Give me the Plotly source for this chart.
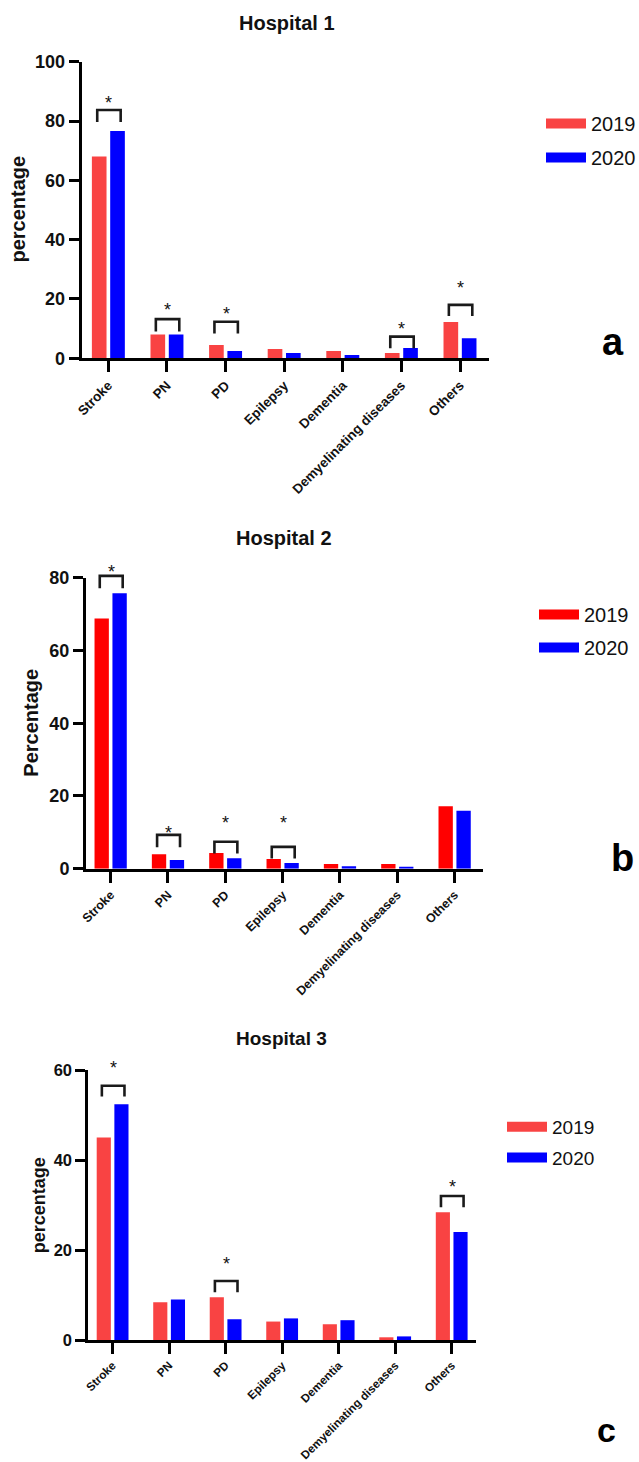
import plotly.graph_objects as go

W, H = 639, 1462

# ---------------- data ----------------
categories = ["Stroke", "PN", "PD", "Epilepsy", "Dementia", "Demyelinating diseases", "Others"]
years = ["2019", "2020"]

h1_2019 = [68.0, 8.0, 4.5, 3.1, 2.5, 1.8, 12.2]
h1_2020 = [76.6, 8.0, 2.5, 1.8, 1.1, 3.5, 6.8]

h2_2019 = [68.8, 4.0, 4.3, 2.7, 1.3, 1.3, 17.2]
h2_2020 = [75.7, 2.4, 2.9, 1.6, 0.7, 0.4, 15.9]

h3_2019 = [45.0, 8.4, 9.5, 4.1, 3.5, 0.6, 28.4]
h3_2020 = [52.4, 9.0, 4.6, 4.8, 4.4, 0.8, 24.0]

# significance brackets: (category index, bracket top, leg end, star level)
sig1 = [(0, 83.7, 79.7, 87.3), (1, 13.2, 9.0, 17.6), (2, 12.3, 8.4, 16.3),
        (5, 7.3, 3.4, 11.2), (6, 18.0, 14.3, 25.0)]
sig2 = [(0, 80.5, 77.1, 82.8), (1, 9.3, 5.9, 10.8), (2, 7.4, 4.2, 13.8),
        (3, 6.0, 2.8, 13.6)]
sig3 = [(0, 56.5, 54.1, 61.3), (2, 13.1, 10.6, 17.8), (6, 32.0, 29.5, 34.8)]

y_max = [100, 80, 60]
y_ticks = [[0, 20, 40, 60, 80, 100], [0, 20, 40, 60, 80], [0, 20, 40, 60]]
titles = ["Hospital 1", "Hospital 2", "Hospital 3"]
ytitles = ["percentage", "Percentage", "percentage"]
panel_letters = ["a", "b", "c"]

# ---------------- styling ----------------
FONT = "Liberation Sans, Arial, Helvetica, sans-serif"
RED_LIGHT = "#F94343"
RED = "#FF0000"
BLUE = "#0000FF"
INK = "#111111"

def px(x):
    return x / W

def py(y):
    return 1 - y / H

panels = [
    dict(vals=(h1_2019, h1_2020), sig=sig1, red=RED_LIGHT,
         xdom=(81.7, 489.3), ydom=(358.3, 61.7), xr=(-0.455, 6.5),
         tickfs=18, xtickfs=13.5, titlefs=20, ytitlefs=20,
         title_xy=(286.7, 23.5), ytitle_xy=(17.5, 209),
         letter_xy=(613, 342), letterfs=38,
         leg_xy=(541, 104), legfs=20, leggap=5),
    dict(vals=(h2_2019, h2_2020), sig=sig2, red=RED,
         xdom=(86.0, 483.3), ydom=(868.7, 577.7), xr=(-0.43, 6.5),
         tickfs=18, xtickfs=12.5, titlefs=20, ytitlefs=20,
         title_xy=(284, 538.5), ytitle_xy=(30.7, 723),
         letter_xy=(622, 858), letterfs=38,
         leg_xy=(534, 595), legfs=20, leggap=4),
    dict(vals=(h3_2019, h3_2020), sig=sig3, red=RED_LIGHT,
         xdom=(88.3, 476.0), ydom=(1340.0, 1070.0), xr=(-0.43, 6.43),
         tickfs=16.5, xtickfs=11.7, titlefs=19, ytitlefs=18,
         title_xy=(281, 1038.5), ytitle_xy=(39.3, 1205),
         letter_xy=(606, 1430), letterfs=34,
         leg_xy=(502, 1108), legfs=19, leggap=3),
]

fig = go.Figure()
layout = dict(
    width=W, height=H,
    margin=dict(l=0, r=0, t=0, b=0, autoexpand=False),
    paper_bgcolor="white", plot_bgcolor="white",
    font=dict(family=FONT, color=INK),
    barmode="group", bargap=0.375, bargroupgap=0.2,
    shapes=[], annotations=[],
)

for i, p in enumerate(panels):
    n = "" if i == 0 else str(i + 1)
    xa, ya = "x" + n, "y" + n
    leg = "legend" + n
    for yname, vals, col in zip(years, p["vals"], (p["red"], BLUE)):
        fig.add_trace(go.Bar(x=categories, y=vals, name=yname, marker_color=col,
                             marker_line_width=0, xaxis=xa, yaxis=ya,
                             showlegend=False))
        # legend swatch entries
        fig.add_trace(go.Scatter(x=[None], y=[None], mode="lines", name=yname,
                                 line=dict(color=col, width=10), xaxis=xa, yaxis=ya,
                                 legend=leg, legendgroup=f"{i}-{yname}",
                                 showlegend=True, hoverinfo="skip"))

    axis_common = dict(showline=True, linecolor="black", linewidth=3,
                       ticks="outside", tickcolor="black", tickwidth=3,
                       showgrid=False, zeroline=False, mirror=False, automargin=False)
    layout["xaxis" + n] = dict(axis_common, anchor=ya,
                               domain=[px(p["xdom"][0]), px(p["xdom"][1])],
                               type="category", range=list(p["xr"]),
                               ticklen=11, tickangle=-45,
                               tickfont=dict(family=FONT, size=p["xtickfs"], color=INK,
                                             weight="bold"))
    layout["yaxis" + n] = dict(axis_common, anchor=xa,
                               domain=[py(p["ydom"][0]), py(p["ydom"][1])],
                               range=[0, y_max[i]], tickvals=y_ticks[i],
                               ticklen=10,
                               tickfont=dict(family=FONT, size=p["tickfs"], color=INK,
                                             weight="bold"))
    layout[leg] = dict(x=px(p["leg_xy"][0]), y=py(p["leg_xy"][1]),
                       xanchor="left", yanchor="top",
                       font=dict(family=FONT, size=p["legfs"], color=INK),
                       bgcolor="rgba(0,0,0,0)", traceorder="grouped",
                       tracegroupgap=p["leggap"], itemwidth=40)

    # significance brackets and stars (y given in data units, placed via the axis domain)
    yd = f"{ya} domain"
    for (ci, top, leg_end, star) in p["sig"]:
        x0, x1 = ci - 0.19, ci + 0.21
        t, b = top / y_max[i], leg_end / y_max[i]
        layout["shapes"].append(dict(
            type="path", xref=xa, yref=yd,
            path=f"M {x0} {b} L {x0} {t} L {x1} {t} L {x1} {b}",
            line=dict(color="#1a1a1a", width=2.6)))
        layout["annotations"].append(dict(
            x=(x0 + x1) / 2, y=star / y_max[i], xref=xa, yref=yd, text="*",
            showarrow=False, xanchor="center", yanchor="middle", yshift=-4,
            font=dict(family=FONT, size=18, color=INK)))

    # panel title
    layout["annotations"].append(dict(
        x=px(p["title_xy"][0]), y=py(p["title_xy"][1]), xref="paper", yref="paper",
        text=f"<b>{titles[i]}</b>", showarrow=False, xanchor="center", yanchor="middle",
        font=dict(family=FONT, size=p["titlefs"], color=INK)))
    # y-axis title
    layout["annotations"].append(dict(
        x=px(p["ytitle_xy"][0]), y=py(p["ytitle_xy"][1]), xref="paper", yref="paper",
        text=f"<b>{ytitles[i]}</b>", showarrow=False, textangle=-90,
        xanchor="center", yanchor="middle",
        font=dict(family=FONT, size=p["ytitlefs"], color=INK)))
    # panel letter
    layout["annotations"].append(dict(
        x=px(p["letter_xy"][0]), y=py(p["letter_xy"][1]), xref="paper", yref="paper",
        text=f"<b>{panel_letters[i]}</b>", showarrow=False,
        xanchor="center", yanchor="middle",
        font=dict(family=FONT, size=p["letterfs"], color="black")))

fig.update_layout(**layout)
# remove the browser's default page margin so the figure fills the window exactly
fig.write_html("out.html",
               config={"displayModeBar": False},
               post_script="document.body.style.margin='0';document.body.style.padding='0';")
